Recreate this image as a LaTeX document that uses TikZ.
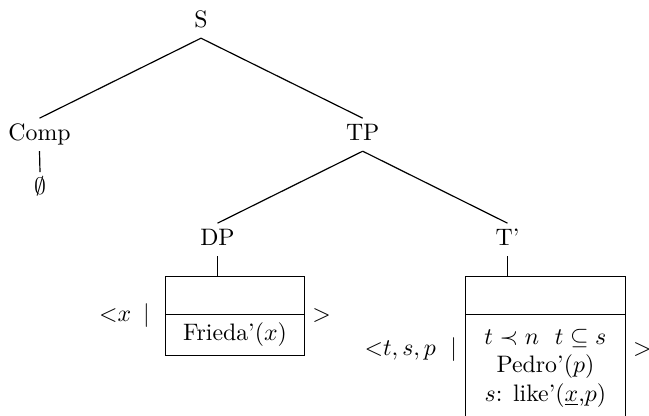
\documentclass[tikz,border=0pt]{standalone}
\usepackage{amsmath,amssymb}
\usepackage{tikz}
\usetikzlibrary{positioning,fit}

\begin{document}
\begin{tikzpicture}[
  x=0.42pt, y=-0.42pt,
  cat/.style={inner sep=2.5pt, text height=1.5ex, text depth=2pt, anchor=base},
  drs/.style={draw, inner sep=2pt, outer sep=0pt, align=center},
  delim/.style={inner sep=0pt},
  branch/.style={line width=0.5pt}]

  \useasboundingbox (0,0) rectangle (649,415);

  \node[cat] (S) at (201,27) {S};
  \node[cat] (comp) at (39.5,140) {Comp};
  \node[cat] (TP) at (362.7,140) {TP};
  \node[cat] (empty) at (40,194) {$\emptyset$};
  \node[cat] (DP) at (217.5,245) {DP};
  \node[cat] (Tbar) at (507.5,245) {T'};

  % box under DP
  \node[drs, anchor=north, minimum width=58.2pt, minimum height=16.1pt] (dptop) at (235,276) {};
  \node[drs, below=0pt of dptop, minimum width=58.2pt, minimum height=17.1pt] (dpcond) {Frieda'$(x)$};
  \node[fit=(dptop)(dpcond), inner sep=0pt] (dpbox) {};
  \node[delim, left=6.3pt of dpbox] (dpleft) {$<$$x$\hspace{5pt}$|$};
  \node[delim, right=3pt of dpbox] (dpright) {$>$};

  % box under T'
  \node[drs, anchor=north, minimum width=66.9pt, minimum height=16.1pt] (tptop) at (545.4,276) {};
  \node[drs, below=0pt of tptop, minimum width=66.9pt, minimum height=45.3pt] (tpcond)
    {$t \prec n\ \ t \subseteq s$\\ Pedro'$(p)$\\ $s$: like'$(\underline{x}$,$p)$};
  \node[fit=(tptop)(tpcond), inner sep=0pt] (tpbox) {};
  \node[delim, left=3.3pt of tpbox] (tpleft) {$<$$t, s, p$\hspace{6pt}$|$};
  \node[delim, right=3pt of tpbox] (tpright) {$>$};

  \draw[branch] (S.south) -- (comp.north);
  \draw[branch] (S.south) -- (TP.north);
  \draw[branch] (comp.south) -- (empty.north);
  \draw[branch] (TP.south) -- (DP.north);
  \draw[branch] (TP.south) -- (Tbar.north);
  \draw[branch] (DP.south) -- (DP.south |- dpbox.north);
  \draw[branch] (Tbar.south) -- (Tbar.south |- tpbox.north);
\end{tikzpicture}
\end{document}
